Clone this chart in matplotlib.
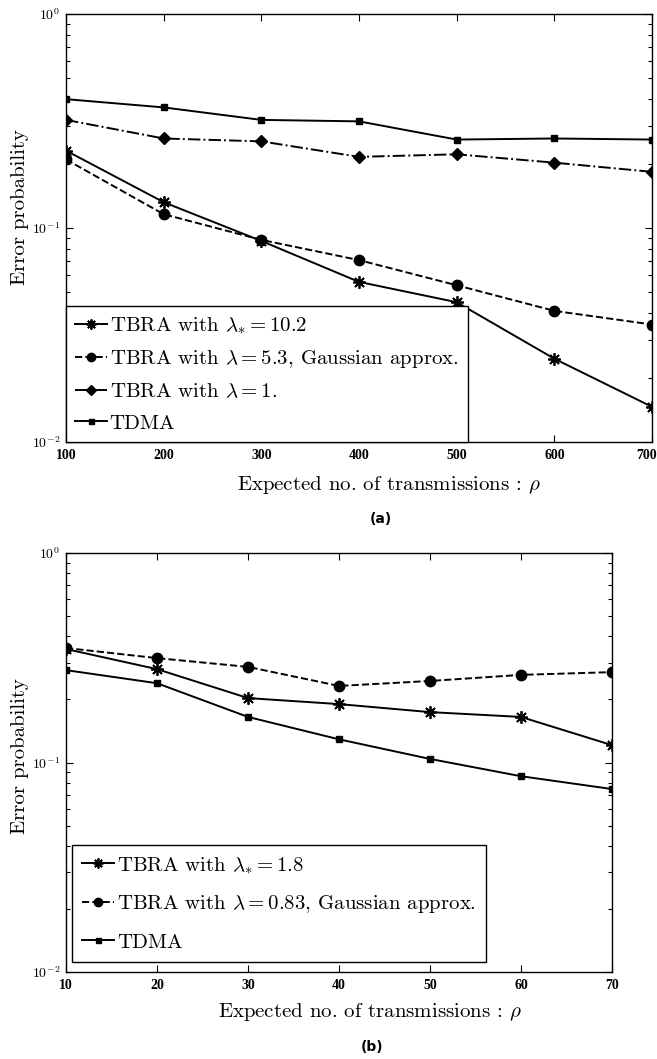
import matplotlib
matplotlib.use("Agg")
import matplotlib.pyplot as plt
import matplotlib.transforms as mtransforms
from matplotlib.ticker import LogLocator, NullFormatter, FixedLocator, FuncFormatter
import numpy as np

plt.rcParams['mathtext.fontset'] = 'cm'
plt.rcParams['font.family'] = ['cmr10', 'DejaVu Serif']
plt.rcParams['axes.formatter.use_mathtext'] = True

# ---- Panel (a) data ----
rho_a = [100, 200, 300, 400, 500, 600, 700]
tbra_star_a = [0.230, 0.132, 0.087, 0.056, 0.045, 0.0245, 0.0146]
tbra_gauss_a = [0.209, 0.116, 0.088, 0.0708, 0.054, 0.041, 0.0354]
tbra_one_a = [0.320, 0.262, 0.254, 0.215, 0.221, 0.202, 0.183]
tdma_a = [0.400, 0.366, 0.320, 0.315, 0.259, 0.262, 0.259]
labels_a = [r"TBRA with $\lambda_{*}=10.2$",
            r"TBRA with $\lambda=5.3$, Gaussian approx.",
            r"TBRA with $\lambda=1.$",
            "TDMA"]

# ---- Panel (b) data ----
rho_b = [10, 20, 30, 40, 50, 60, 70]
tbra_star_b = [0.348, 0.279, 0.203, 0.190, 0.174, 0.165, 0.121]
tbra_gauss_b = [0.352, 0.315, 0.286, 0.232, 0.245, 0.262, 0.270]
tdma_b = [0.276, 0.239, 0.165, 0.129, 0.104, 0.086, 0.0747]
labels_b = [r"TBRA with $\lambda_{*}=1.8$",
            r"TBRA with $\lambda=0.83$, Gaussian approx.",
            "TDMA"]

xlabel = r"Expected no. of transmissions : $\rho$"
ylabel = "Error probability"

fig = plt.figure(figsize=(6.57, 10.59), dpi=100)
W, H = 657, 1059

def add_ax(l, r, t, b):
    return fig.add_axes([l / W, 1 - b / H, (r - l) / W, (b - t) / H])

ax_a = add_ax(66, 652, 14, 442)
ax_b = add_ax(66, 612, 553, 972)

star = dict(marker=(8, 2, 0), markersize=9, markeredgewidth=1.3)
circ = dict(marker='o', markersize=7.5)
diam = dict(marker='D', markersize=6.5)
sq = dict(marker='s', markersize=4.5)
lw = 1.4

def yfmt(v, pos):
    e = int(round(np.log10(v)))
    return r"$\mathbf{10^{%d}}$" % e

def style(ax, xticks, xl, yl):
    ax.set_yscale('log')
    ax.set_ylim(1e-2, 1)
    ax.set_xlim(xticks[0], xticks[-1])
    ax.xaxis.set_major_locator(FixedLocator(xticks))
    ax.set_xticklabels([str(t) for t in xticks])
    ax.yaxis.set_major_locator(LogLocator(base=10, numticks=5))
    ax.yaxis.set_major_formatter(FuncFormatter(yfmt))
    ax.yaxis.set_minor_locator(LogLocator(base=10, subs=range(2, 10), numticks=20))
    ax.yaxis.set_minor_formatter(NullFormatter())
    ax.tick_params(which='both', direction='in', top=True, right=True)
    ax.tick_params(which='major', length=5, width=0.8, labelsize=10)
    ax.tick_params(which='minor', length=3, width=0.8)
    ax.tick_params(axis='x', pad=5)
    ax.tick_params(axis='y', pad=4)
    for lab in ax.get_xticklabels():
        lab.set_fontweight('bold')
        lab.set_family('Liberation Serif')
    ax.set_ylabel(ylabel, fontsize=15)
    ax.set_xlabel(xlabel, fontsize=15)
    ax.xaxis.set_label_coords(*xl)
    ax.yaxis.set_label_coords(*yl)
    ax.xaxis.label.set_verticalalignment('center')
    ax.yaxis.label.set_verticalalignment('center')
    for s in ax.spines.values():
        s.set_linewidth(1.0)

# Panel (a)
ax_a.plot(rho_a, tbra_star_a, color='k', linestyle='-', lw=lw, label=labels_a[0], **star)
ax_a.plot(rho_a, tbra_gauss_a, color='k', linestyle='--', lw=lw, label=labels_a[1], **circ)
ax_a.plot(rho_a, tbra_one_a, color='k', linestyle='-.', lw=lw, label=labels_a[2], **diam)
ax_a.plot(rho_a, tdma_a, color='k', linestyle='-', lw=lw, label=labels_a[3], **sq)
style(ax_a, rho_a, (0.551, -0.1005), (-0.0785, 0.549))
leg = ax_a.legend(loc='lower left', bbox_to_anchor=(0.0, 0.0), fontsize=15,
                  frameon=True, fancybox=False, edgecolor='k', handlelength=1.5,
                  handletextpad=0.15, borderaxespad=0.0, labelspacing=0.6,
                  borderpad=0.45, markerscale=0.8, framealpha=1)
leg.get_frame().set_linewidth(1.0)

# nudge the last x tick label of panel (a) so it stays inside the figure
last = ax_a.get_xticklabels()[-1]
last.set_transform(last.get_transform() +
                   mtransforms.ScaledTranslation(-5 / 100, 0, fig.dpi_scale_trans))

# Panel (b)
ax_b.plot(rho_b, tbra_star_b, color='k', linestyle='-', lw=lw, label=labels_b[0], **star)
ax_b.plot(rho_b, tbra_gauss_b, color='k', linestyle='--', lw=lw, label=labels_b[1], **circ)
ax_b.plot(rho_b, tdma_b, color='k', linestyle='-', lw=lw, label=labels_b[2], **sq)
style(ax_b, rho_b, (0.557, -0.0955), (-0.084, 0.515))
leg = ax_b.legend(loc='lower left', bbox_to_anchor=(0.011, 0.024), fontsize=15,
                  frameon=True, fancybox=False, edgecolor='k', handlelength=1.5,
                  handletextpad=0.15, borderaxespad=0.0, labelspacing=0.85,
                  borderpad=0.5, markerscale=0.8, framealpha=1)
leg.get_frame().set_linewidth(1.0)

fig.text(381 / W, 1 - 519 / H, "(a)", ha='center', va='center', fontsize=10,
         family='DejaVu Sans', fontweight='bold')
fig.text(372 / W, 1 - 1047 / H, "(b)", ha='center', va='center', fontsize=10,
         family='DejaVu Sans', fontweight='bold')

fig.savefig("out.png", dpi=100)
